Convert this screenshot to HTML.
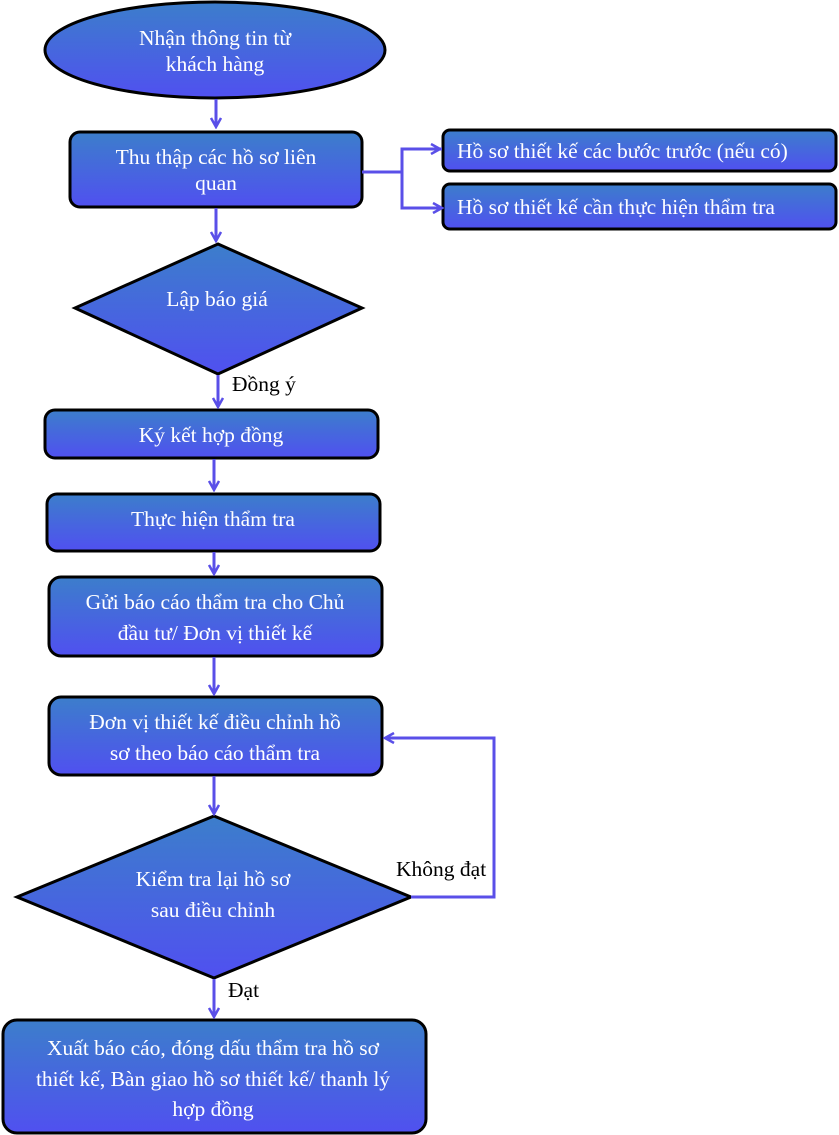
<!DOCTYPE html>
<html><head><meta charset="utf-8"><style>
html,body{margin:0;padding:0;background:#fff;width:839px;height:1135px;overflow:hidden}
text{font-family:"Liberation Serif",serif;font-size:21.5px;fill:#fff;text-anchor:middle}
.l{fill:#000;text-anchor:start}
</style></head><body>
<svg width="839" height="1135" viewBox="0 0 839 1135" xmlns="http://www.w3.org/2000/svg">
<defs>
<linearGradient id="g" x1="0" y1="0" x2="0" y2="1"><stop offset="0" stop-color="#3c7ecb"/><stop offset="1" stop-color="#5050f0"/></linearGradient>
<marker id="a" markerWidth="12" markerHeight="12" refX="10" refY="6" orient="auto" markerUnits="userSpaceOnUse"><path d="M1,1 L10,6 L1,11" fill="none" stroke="#5a4fe8" stroke-width="2.5"/></marker>
</defs>
<g fill="url(#g)" stroke="#000" stroke-width="3">
<ellipse cx="215" cy="50" rx="170" ry="48"/>
<rect x="70" y="132" width="292" height="75" rx="10"/>
<rect x="443" y="130" width="393" height="41" rx="7"/>
<rect x="443" y="184" width="393" height="45" rx="7"/>
<polygon points="218,244 362,308 218,374 75,308"/>
<rect x="45" y="410" width="333" height="48" rx="10"/>
<rect x="47" y="494" width="333" height="57" rx="10"/>
<rect x="49" y="577" width="333" height="79" rx="12"/>
<rect x="49" y="697" width="333" height="78" rx="12"/>
<polygon points="214,816 411,897 214,978 17,897"/>
<rect x="3" y="1020" width="423" height="113" rx="14"/>
</g>
<g stroke="#5a4fe8" stroke-width="3" fill="none">
<line x1="216" y1="99" x2="216" y2="127" marker-end="url(#a)"/>
<line x1="216" y1="208" x2="216" y2="241" marker-end="url(#a)"/>
<polyline points="362,172 402,172"/>
<polyline points="442,149 402,149 402,208 442,208" marker-end="url(#a)"/>
<line x1="402" y1="149" x2="440" y2="149" marker-end="url(#a)"/>
<line x1="218" y1="375" x2="218" y2="407" marker-end="url(#a)"/>
<line x1="214" y1="459" x2="214" y2="490" marker-end="url(#a)"/>
<line x1="214" y1="552" x2="214" y2="574" marker-end="url(#a)"/>
<line x1="214" y1="657" x2="214" y2="694" marker-end="url(#a)"/>
<line x1="214" y1="776" x2="214" y2="814" marker-end="url(#a)"/>
<polyline points="411,897 494,897 494,738 385,738" marker-end="url(#a)"/>
<line x1="214" y1="979" x2="214" y2="1017" marker-end="url(#a)"/>
</g>
<text x="215" y="45">Nhận thông tin từ</text>
<text x="215" y="71">khách hàng</text>
<text x="216" y="164">Thu thập các hồ sơ liên</text>
<text x="216" y="190">quan</text>
<text x="457" y="158" style="text-anchor:start">Hồ sơ thiết kế các bước trước (nếu có)</text>
<text x="457" y="214" style="text-anchor:start">Hồ sơ thiết kế cần thực hiện thẩm tra</text>
<text x="217" y="306">Lập báo giá</text>
<text class="l" x="232" y="391">Đồng ý</text>
<text x="211" y="442">Ký kết hợp đồng</text>
<text x="213" y="526">Thực hiện thẩm tra</text>
<text x="215" y="609">Gửi báo cáo thẩm tra cho Chủ</text>
<text x="215" y="640">đầu tư/ Đơn vị thiết kế</text>
<text x="215" y="729">Đơn vị thiết kế điều chỉnh hồ</text>
<text x="215" y="760">sơ theo báo cáo thẩm tra</text>
<text x="213" y="886">Kiểm tra lại hồ sơ</text>
<text x="213" y="917">sau điều chỉnh</text>
<text class="l" x="396" y="876">Không đạt</text>
<text class="l" x="228" y="997">Đạt</text>
<text x="213" y="1055">Xuất báo cáo, đóng dấu thẩm tra hồ sơ</text>
<text x="213" y="1086">thiết kế, Bàn giao hồ sơ thiết kế/ thanh lý</text>
<text x="213" y="1116">hợp đồng</text>
</svg>
</body></html>
